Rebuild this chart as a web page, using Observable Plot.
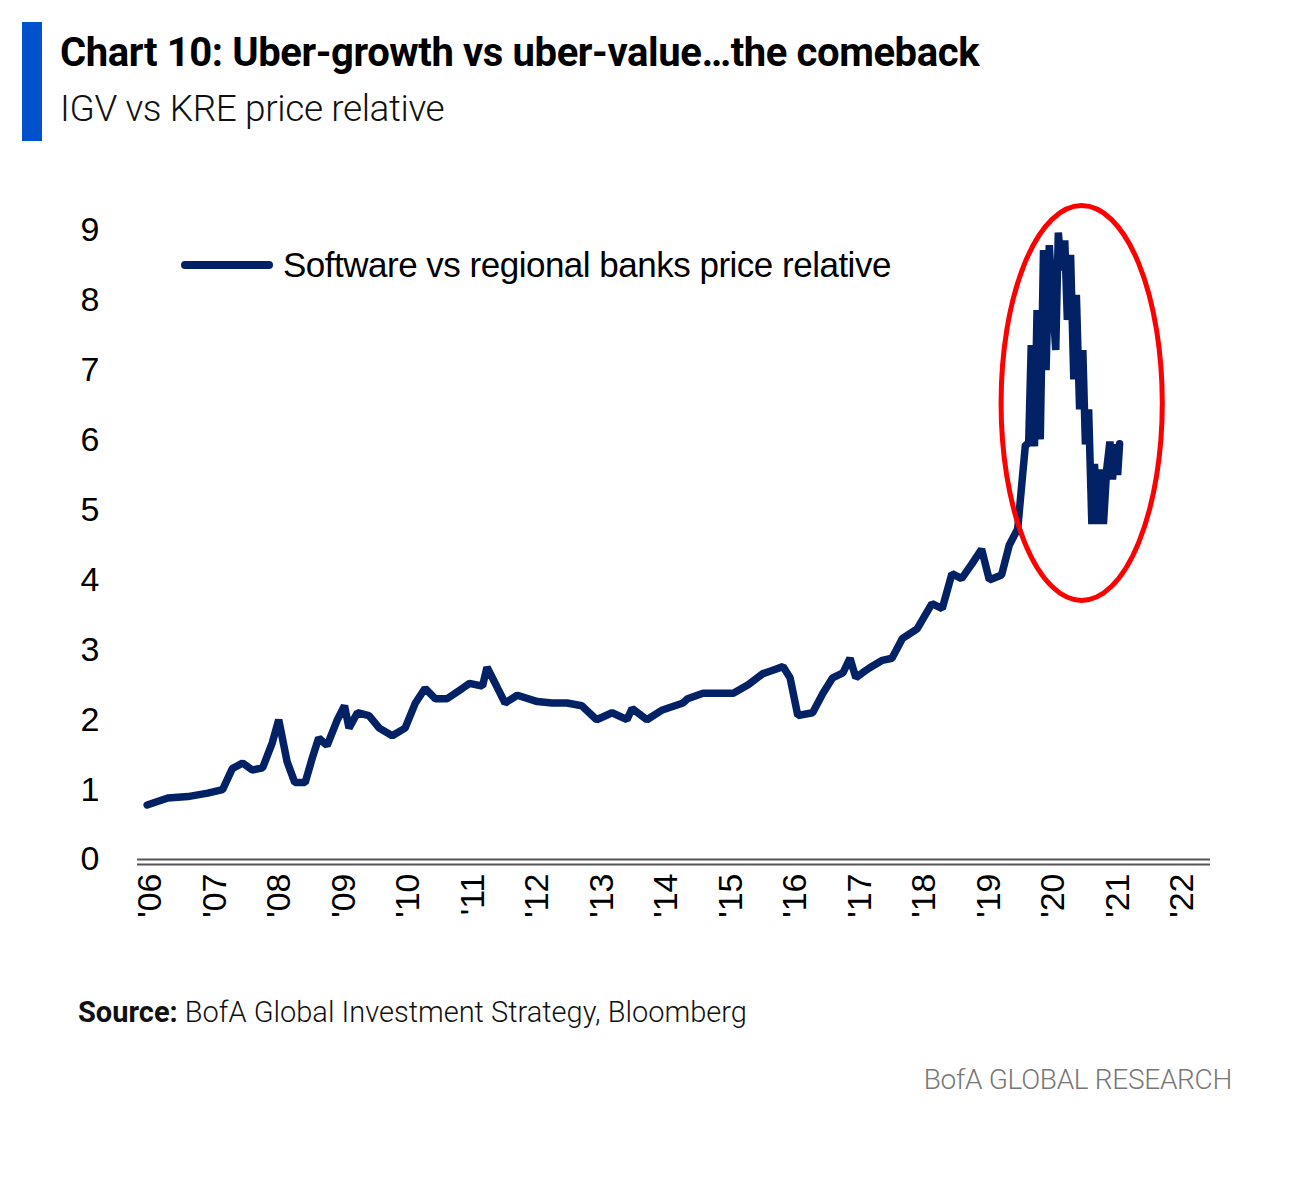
<!DOCTYPE html>
<html><head><meta charset="utf-8">
<script src="https://cdn.jsdelivr.net/npm/d3@7"></script>
<script src="https://cdn.jsdelivr.net/npm/@observablehq/plot@0.6"></script>
<style>
body{margin:0;background:#fff;font-family:"Liberation Sans",Arial,sans-serif;}
#wrap{position:relative;width:1308px;height:1180px;}
.bar{position:absolute;left:22px;top:22px;width:20px;height:119px;background:#0052cc;}
.title{position:absolute;left:60px;top:29px;font:bold 40px Roboto,sans-serif;letter-spacing:-0.4px;color:#000;}
.sub{position:absolute;left:60px;top:87px;font:300 37px Roboto,sans-serif;letter-spacing:-0.4px;color:#111;}
#chart{position:absolute;left:0;top:190px;}
.legend{position:absolute;left:181px;top:245px;display:flex;align-items:center;font:35px "Liberation Sans",Arial,sans-serif;letter-spacing:-0.5px;color:#000;}
.legend span.sw{display:inline-block;width:92px;height:8px;background:#032266;border-radius:4px;margin-right:10px;}
.src{position:absolute;left:78px;top:995px;font:300 29px Roboto,sans-serif;letter-spacing:0px;color:#111;}
.src b{font-weight:bold;}
.brand{position:absolute;right:76px;top:1063px;font:300 28px Roboto,sans-serif;color:#777;letter-spacing:-0.3px;}
</style></head><body>
<div id="wrap">
<div class="bar"></div>
<div class="title">Chart 10: Uber-growth vs uber-value…the comeback</div>
<div class="sub">IGV vs KRE price relative</div>
<div id="chart"></div>
<div class="legend"><span class="sw"></span>Software vs regional banks price relative</div>
<div class="src"><b>Source:</b> BofA Global Investment Strategy, Bloomberg</div>
<div class="brand">BofA GLOBAL RESEARCH</div>
</div>
<script>
// read-off points
const years = [2005.95,2006.27,2006.58,2006.89,2007.12,2007.27,2007.43,2007.58,2007.74,2007.89,2007.99,2008.12,2008.24,2008.40,2008.51,2008.61,2008.74,2008.90,2009.01,2009.08,2009.21,2009.39,2009.55,2009.75,2009.95,2010.11,2010.26,2010.42,2010.60,2010.84,2010.95,2011.15,2011.22,2011.38,2011.50,2011.69,2012.00,2012.23,2012.46,2012.69,2012.92,2013.16,2013.39,2013.47,2013.70,2013.94,2014.26,2014.33,2014.57,2014.80,2015.04,2015.27,2015.50,2015.63,2015.81,2015.92,2016.04,2016.27,2016.43,2016.58,2016.74,2016.85,2016.94,2017.04,2017.15,2017.35,2017.50,2017.66,2017.89,2018.12,2018.28,2018.43,2018.58,2018.74,2018.89,2019.01,2019.20,2019.32,2019.45,2019.57,2019.62,2019.66,2019.71,2019.75,2019.80,2019.85,2019.89,2019.94,2019.99,2020.04,2020.08,2020.13,2020.18,2020.22,2020.27,2020.32,2020.36,2020.41,2020.46,2020.50,2020.55,2020.60,2020.64,2020.69,2020.74,2020.78,2020.83,2020.88,2020.92,2020.97,2021.00,2021.03];
const values = [0.78,0.88,0.9,0.95,1.0,1.3,1.38,1.28,1.31,1.67,2.0,1.4,1.1,1.1,1.45,1.74,1.63,2.0,2.2,1.88,2.1,2.06,1.88,1.77,1.88,2.24,2.45,2.3,2.3,2.45,2.52,2.48,2.75,2.46,2.24,2.35,2.26,2.24,2.24,2.2,2.0,2.1,2.0,2.16,2.0,2.14,2.24,2.3,2.38,2.38,2.38,2.5,2.66,2.7,2.76,2.6,2.06,2.1,2.38,2.6,2.67,2.88,2.6,2.67,2.74,2.85,2.88,3.16,3.3,3.66,3.59,4.09,4.02,4.23,4.44,4.0,4.07,4.5,4.73,5.94,5.94,7.36,5.91,7.86,6.01,8.72,7.0,8.79,8.0,7.29,8.97,8.43,8.86,7.72,8.65,6.87,8.08,6.44,7.29,5.94,6.44,4.8,5.66,4.8,5.58,4.8,5.58,5.98,5.44,5.94,5.5,5.95];
const data = years.map((y,i)=>({year:y, value:values[i]}));
const xTicks = d3.range(2006, 2023);
const yTicks = d3.range(0, 10);

const chart = Plot.plot({
  width: 1308, height: 759,
  marginLeft: 137, marginRight: 98, marginTop: 40, marginBottom: 90,
  style: {fontFamily: '"Liberation Sans", Arial, sans-serif', fontSize: "34px", color: "#000", background: "transparent"},
  x: {domain: [2005.8, 2022.44], ticks: xTicks, tickFormat: d => "'" + String(d).slice(2), tickRotate: -90, tickSize: 0, tickPadding: 14, label: null},
  y: {domain: [0, 9], ticks: yTicks, tickSize: 0, tickPadding: 38, label: null},
  marks: [
    Plot.ruleY([0], {stroke: "#555", strokeWidth: 2}),
    Plot.ruleY([0], {stroke: "#555", strokeWidth: 2, dy: 5}),
    Plot.line(data, {x: "year", y: "value", stroke: "#032266", strokeWidth: 7.5, strokeLinejoin: "miter"})
  ]
});
document.getElementById("chart").appendChild(chart);
// red ellipse annotation around the 2020 spike
const sx = chart.scale("x"), sy = chart.scale("y");
const ns = "http://www.w3.org/2000/svg";
const el = document.createElementNS(ns, "ellipse");
const x0 = 2019.2, x1 = 2021.7, yTop = 9.35, yBot = 3.7;
el.setAttribute("cx", (sx.apply(x0) + sx.apply(x1)) / 2);
el.setAttribute("cy", (sy.apply(yTop) + sy.apply(yBot)) / 2);
el.setAttribute("rx", (sx.apply(x1) - sx.apply(x0)) / 2);
el.setAttribute("ry", (sy.apply(yBot) - sy.apply(yTop)) / 2);
el.setAttribute("fill", "none");
el.setAttribute("stroke", "#ff0000");
el.setAttribute("stroke-width", 5);
chart.appendChild(el);
</script>
</body></html>
